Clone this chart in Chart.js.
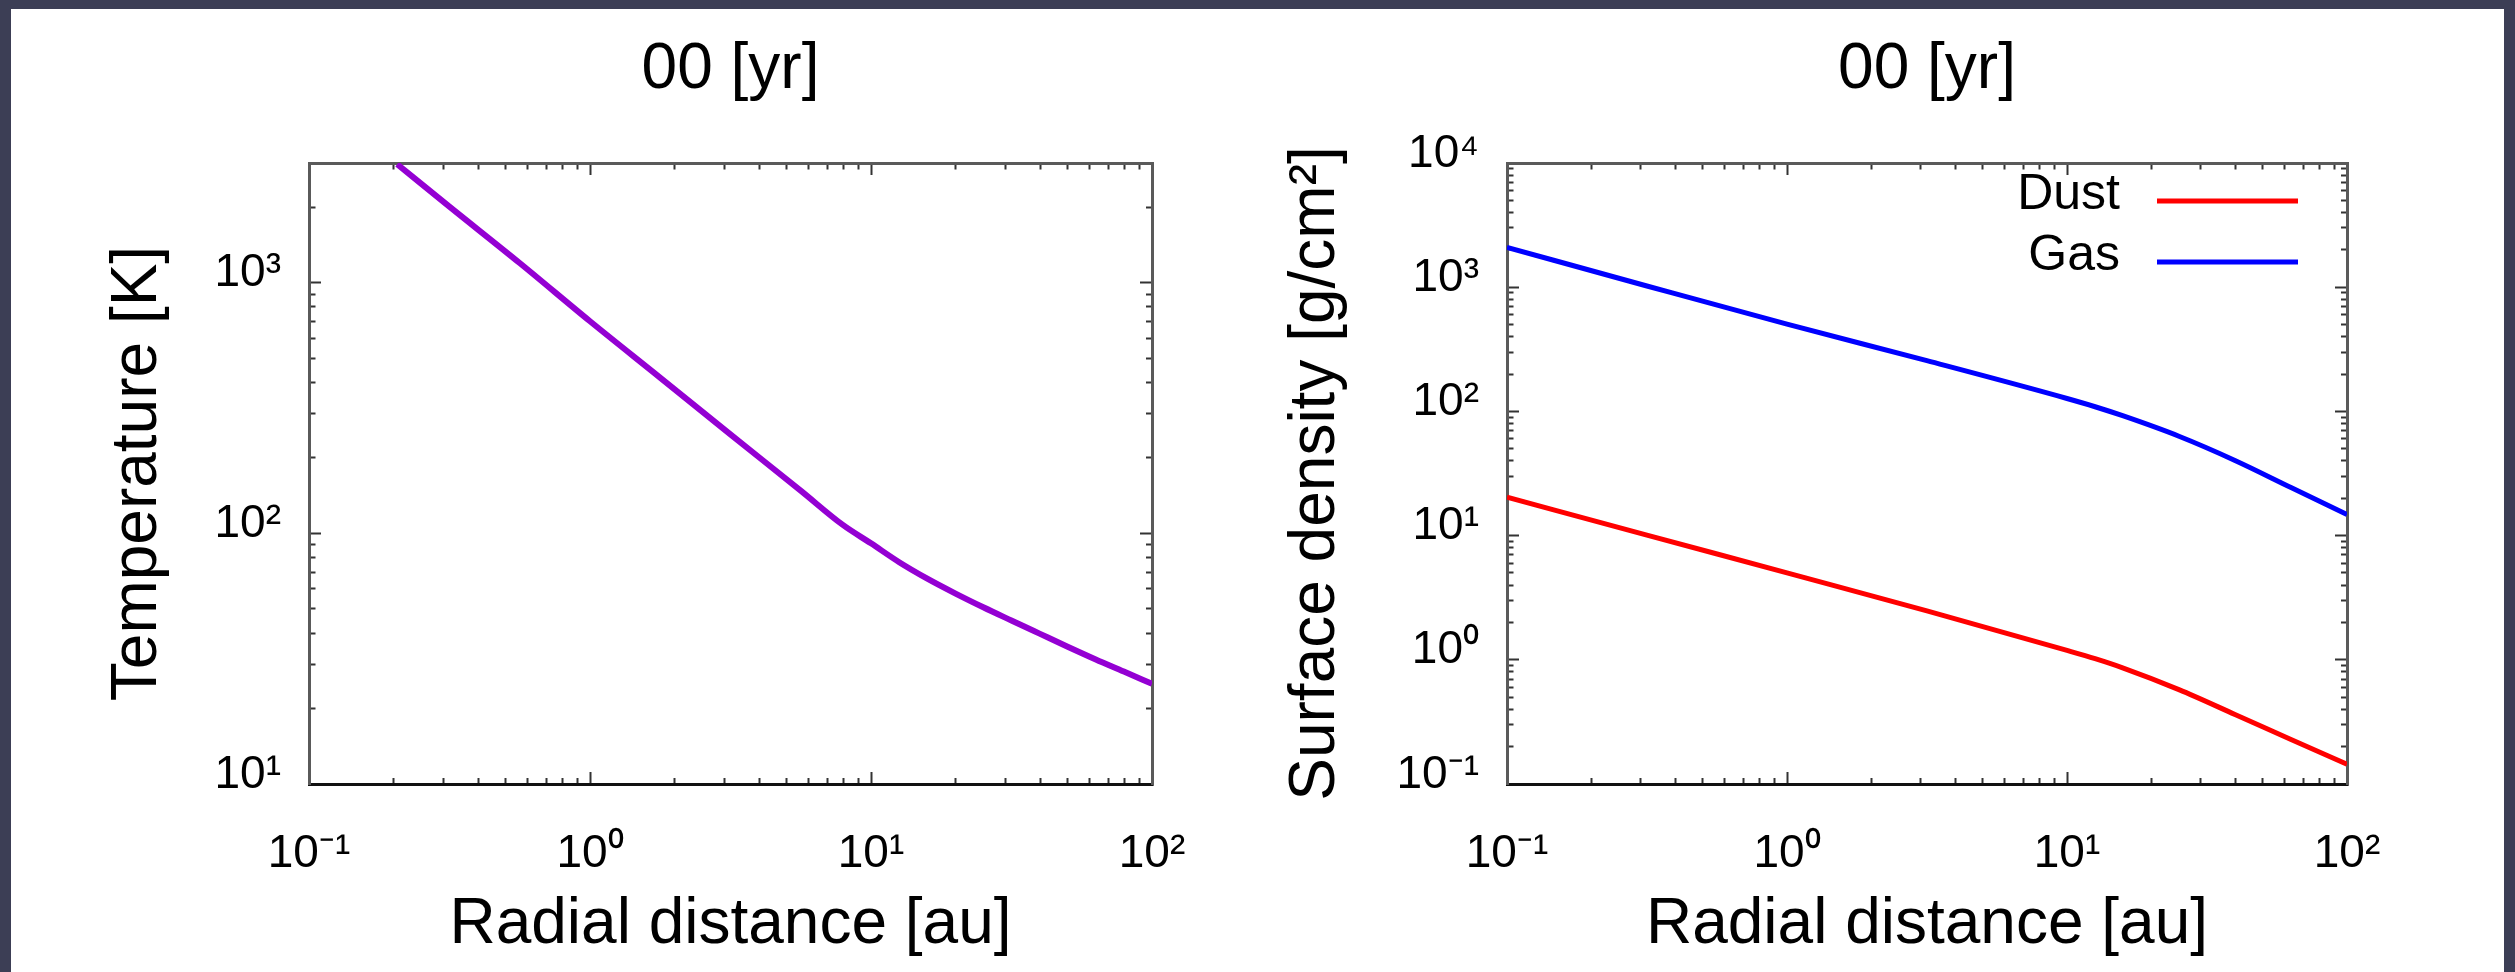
<!DOCTYPE html>
<html>
<head>
<meta charset="utf-8">
<script src="https://cdn.jsdelivr.net/npm/chart.js@4.4.1/dist/chart.umd.min.js"></script>
<style>
  html, body { margin: 0; padding: 0; }
  body { width: 2515px; height: 972px; background: #3c3e55; position: relative; overflow: hidden; }
  #sheet { position: absolute; left: 11px; top: 9px; width: 2493px; height: 963px; background: #ffffff; }
  canvas { position: absolute; top: 0; }
  #tempChart { left: 0; }
  #densChart { left: 1257px; }
</style>
</head>
<body>
<div id="sheet"></div>
<canvas id="tempChart" width="1257" height="972"></canvas>
<canvas id="densChart" width="1258" height="972"></canvas>
<script>
// values
const tempRadius = [0.206, 0.316, 0.562, 1, 1.78, 3.16, 5.62, 7.94, 10, 12.6,
                    15.8, 20.0, 25.1, 31.6, 39.8, 50.1, 63.1, 79.4, 100];
const temperature = [2965, 2009, 1197, 701, 417, 248, 148, 108, 91.2, 76.7,
                     66.1, 57.5, 50.7, 44.9, 39.8, 35.3, 31.4, 28.1, 25.1];

const densRadius = [0.1, 0.316, 1, 3.16, 10, 12.6, 15.8, 25.1, 39.8, 63.1, 100];
const dustDensity = [20.4, 10.1, 5.01, 2.48, 1.19, 1.02, 0.861, 0.575, 0.363, 0.228, 0.144];
const gasDensity = [2094, 1023, 504, 256, 127, 109, 92.3, 63.1, 40.3, 24.4, 14.8];

const radiusTicks = [0.1, 1, 10, 100];
const radiusTickLabels = ['10⁻¹', '10⁰', '10¹', '10²'];
const tempTicks = [10, 100, 1000];
const tempTickLabels = ['10¹', '10²', '10³'];
const densTicks = [0.1, 1, 10, 100, 1000, 10000];
const densTickLabels = ['10⁻¹', '10⁰', '10¹', '10²', '10³', '10⁴'];

const panelTitle = '00 [yr]';

const FONT = "'Liberation Sans', Arial, Helvetica, sans-serif";
Chart.defaults.font.family = FONT;
Chart.defaults.color = '#000';

// 1..9 x 10^n, like gnuplot's minor tics
function decadeTicks(min, max) {
  const out = [];
  for (let e = Math.floor(Math.log10(min)); e <= Math.ceil(Math.log10(max)); e++) {
    for (let m = 1; m < 10; m++) {
      const v = +(m * Math.pow(10, e)).toPrecision(6);
      if (v >= min * 0.999 && v <= max * 1.001) out.push({ value: v, major: m === 1 });
    }
  }
  return out;
}

function logAxis(position, min, max, size, opts) {
  opts = opts || {};
  const horizontal = position === 'top' || position === 'bottom';
  const innerStart = position === 'left' || position === 'top';
  const values = opts.values || [];
  const labels = opts.labels || [];
  return {
    type: 'logarithmic',
    position: position,
    min: min,
    max: max,
    afterBuildTicks: (scale) => { scale.ticks = decadeTicks(min, max); },
    afterFit: (scale) => {
      if (horizontal) scale.height = size; else scale.width = size;
    },
    border: { color: position === 'bottom' ? '#111' : '#5a5a5a', width: 3 },
    grid: {
      drawOnChartArea: false,
      drawTicks: true,
      tickLength: -12,
      tickColor: '#333',
      tickWidth: 2,
      tickBorderDash: (c) => (c.tick && c.tick.major) ? [] : (innerStart ? [0, 5.5, 100, 0] : [8, 100])
    },
    ticks: {
      display: !!opts.labels,
      autoSkip: false,
      maxRotation: 0,
      minRotation: 0,
      padding: horizontal ? 55 : 40,
      labelOffset: horizontal ? 0 : -9,
      color: '#000',
      font: { size: 46 },
      callback: (v) => {
        const k = values.findIndex(t => Math.abs(t - v) <= t * 1e-6);
        return k < 0 ? '' : labels[k];
      }
    },
    title: {
      display: !!opts.title,
      text: opts.title || '',
      color: '#000',
      font: { size: 64 },
      padding: 0
    }
  };
}

// legend drawn inside the plot, text on the left, line sample on the right
const cornerLegend = {
  id: 'cornerLegend',
  afterDatasetsDraw(chart, args, o) {
    const { ctx, chartArea } = chart;
    ctx.save();
    ctx.font = '50px ' + FONT;
    ctx.textAlign = 'right';
    ctx.textBaseline = 'alphabetic';
    chart.data.datasets.forEach((ds, i) => {
      const y = chartArea.top + o.firstRow + i * o.rowGap;
      ctx.fillStyle = '#000';
      ctx.fillText(ds.label, chartArea.right - o.textRight, y + 8);
      ctx.strokeStyle = ds.borderColor;
      ctx.lineWidth = ds.borderWidth;
      ctx.beginPath();
      ctx.moveTo(chartArea.right - o.lineFrom, y);
      ctx.lineTo(chartArea.right - o.lineTo, y);
      ctx.stroke();
    });
    ctx.restore();
  }
};

function series(xs, ys) {
  return xs.map((x, i) => ({ x: x, y: ys[i] }));
}

new Chart(document.getElementById('tempChart'), {
  type: 'line',
  data: {
    datasets: [{
      label: 'Temperature',
      data: series(tempRadius, temperature),
      borderColor: '#9400d3',
      borderWidth: 6,
      pointRadius: 0,
      cubicInterpolationMode: 'monotone'
    }]
  },
  options: {
    responsive: false,
    animation: false,
    devicePixelRatio: 1,
    layout: { padding: { left: 100, top: 32, right: 0, bottom: 8 } },
    plugins: { legend: { display: false }, tooltip: { enabled: false } },
    scales: {
      x: logAxis('bottom', 0.1, 100, 180, { values: radiusTicks, labels: radiusTickLabels, title: 'Radial distance [au]' }),
      x2: logAxis('top', 0.1, 100, 131, { title: panelTitle }),
      y: logAxis('left', 10, 3000, 209, { values: tempTicks, labels: tempTickLabels, title: 'Temperature [K]' }),
      y2: logAxis('right', 10, 3000, 105)
    }
  }
});

new Chart(document.getElementById('densChart'), {
  type: 'line',
  data: {
    datasets: [{
      label: 'Dust',
      data: series(densRadius, dustDensity),
      borderColor: '#ff0000',
      borderWidth: 5,
      pointRadius: 0,
      cubicInterpolationMode: 'monotone'
    }, {
      label: 'Gas',
      data: series(densRadius, gasDensity),
      borderColor: '#0000ff',
      borderWidth: 5,
      pointRadius: 0,
      cubicInterpolationMode: 'monotone'
    }]
  },
  options: {
    responsive: false,
    animation: false,
    devicePixelRatio: 1,
    layout: { padding: { left: 21, top: 32, right: 0, bottom: 8 } },
    plugins: {
      legend: { display: false },
      tooltip: { enabled: false },
      cornerLegend: { firstRow: 38, rowGap: 61, textRight: 227, lineFrom: 190, lineTo: 49 }
    },
    scales: {
      x: logAxis('bottom', 0.1, 100, 180, { values: radiusTicks, labels: radiusTickLabels, title: 'Radial distance [au]' }),
      x2: logAxis('top', 0.1, 100, 131, { title: panelTitle }),
      y: logAxis('left', 0.1, 10000, 229, { values: densTicks, labels: densTickLabels, title: 'Surface density [g/cm²]' }),
      y2: logAxis('right', 0.1, 10000, 168)
    }
  },
  plugins: [cornerLegend]
});
</script>
</body>
</html>
